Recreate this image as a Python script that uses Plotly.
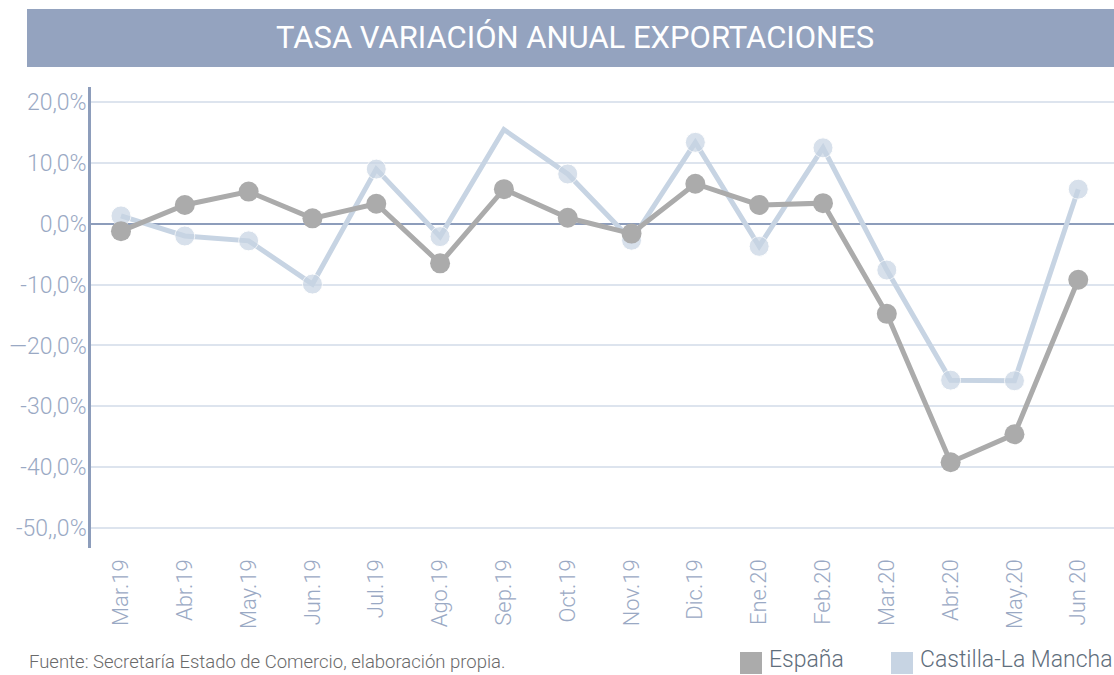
import plotly.graph_objects as go

categories = ["Mar.19", "Abr.19", "May.19", "Jun.19", "Jul.19", "Ago.19", "Sep.19", "Oct.19",
              "Nov.19", "Dic.19", "Ene.20", "Feb.20", "Mar.20", "Abr.20", "May.20", "Jun 20"]
espana = [-1.2, 3.1, 5.3, 0.9, 3.3, -6.5, 5.7, 1.0, -1.6, 6.6, 3.1, 3.4, -14.8, -39.2, -34.6, -9.2]
clm = [1.3, -2.0, -2.8, -9.9, 9.0, -2.1, 15.5, 8.2, -2.7, 13.4, -3.7, 12.5, -7.6, -25.7, -25.8, 5.7]
ytick_vals = [20, 10, 0, -10, -20, -30, -40, -50]
ytick_text = ["20,0%", "10,0%", "0,0%", "-10,0%", "—20,0%", "-30,0%", "-40,0%", "-50,,0%"]
series_names = ["España", "Castilla-La Mancha"]
title_text = "TASA VARIACIÓN ANUAL EXPORTACIONES"
source_text = "Fuente: Secretaría Estado de Comercio, elaboración propia."

GREY = "#ababab"
LIGHT = "#c7d4e3"
AXIS = "#8d9dbb"
TICK = "#9aa9c4"
LEG_TXT = "#5f6e7c"
FONT = "Roboto"

PLOT_L, PLOT_R, PLOT_T, PLOT_B = 91, 1114, 87, 548
PW, PH = PLOT_R - PLOT_L, PLOT_B - PLOT_T


def px_x(p):
    return (p - PLOT_L) / PW


def px_y(p):
    return (PLOT_B - p) / PH


x_idx = list(range(len(categories)))

fig = go.Figure()
fig.add_trace(go.Scatter(
    x=x_idx, y=clm, mode="lines+markers", name=series_names[1],
    line=dict(color=LIGHT, width=5),
    marker=dict(color=LIGHT, size=[0 if c == "Sep.19" else 20 for c in categories]),
    showlegend=False, cliponaxis=False))
fig.add_trace(go.Scatter(
    x=x_idx, y=espana, mode="lines+markers", name=series_names[0],
    line=dict(color=GREY, width=5),
    marker=dict(color=GREY, size=20),
    showlegend=False, cliponaxis=False))

# legend drawn as swatches + labels (below plot, bottom right)
legend_items = [(series_names[0], GREY, 740), (series_names[1], LIGHT, 891)]
shapes = [dict(type="rect", xref="paper", yref="paper",
               x0=px_x(27), x1=1.0, y0=px_y(67), y1=px_y(9),
               fillcolor="#94a3bf", line=dict(width=0), layer="below")]
annotations = [
    dict(text=title_text, xref="paper", yref="paper", x=px_x(575),
         y=px_y(38), xanchor="center", yanchor="middle", showarrow=False,
         font=dict(size=31, color="white", family=FONT)),
    dict(text=source_text, xref="paper", yref="paper", x=px_x(27),
         y=px_y(662), xanchor="left", yanchor="middle", showarrow=False,
         font=dict(size=18.5, color="#6a6a6a", family=FONT, weight=300)),
]
for name, col, sx in legend_items:
    shapes.append(dict(type="rect", xref="paper", yref="paper",
                       x0=px_x(sx), x1=px_x(sx + 22), y0=px_y(674), y1=px_y(652),
                       fillcolor=col, line=dict(width=0)))
    annotations.append(dict(text=name, xref="paper", yref="paper", x=px_x(sx + 27),
                            y=px_y(674.5), xanchor="left", yanchor="bottom", showarrow=False,
                            font=dict(size=23, color=LEG_TXT, family=FONT, weight=300)))

fig.update_layout(
    width=1114, height=675, autosize=False,
    margin=dict(l=PLOT_L, r=1114 - PLOT_R, t=PLOT_T, b=675 - PLOT_B, pad=0),
    plot_bgcolor="white", paper_bgcolor="white",
    font=dict(family=FONT),
    showlegend=False,
    xaxis=dict(
        tickmode="array", tickvals=x_idx, ticktext=categories,
        range=[-0.47, 15.56], tickangle=-90, showgrid=False, zeroline=False,
        showline=False, ticks="", ticklabelstandoff=6,
        tickfont=dict(size=22, color=TICK, family=FONT, weight=300)),
    yaxis=dict(
        tickmode="array", tickvals=ytick_vals, ticktext=ytick_text,
        range=[-53.3, 22.5], showgrid=True, gridcolor="#dde4ee", gridwidth=1.5,
        zeroline=True, zerolinecolor=AXIS, zerolinewidth=2,
        showline=True, linecolor=AXIS, linewidth=2.5, ticks="",
        ticklabelstandoff=-3,
        tickfont=dict(size=23, color=TICK, family=FONT, weight=300)),
    shapes=shapes,
    annotations=annotations,
)

fig.write_html("out.html", config={"displayModeBar": False},
               post_script="document.body.style.margin='0';document.body.style.overflow='hidden';")
